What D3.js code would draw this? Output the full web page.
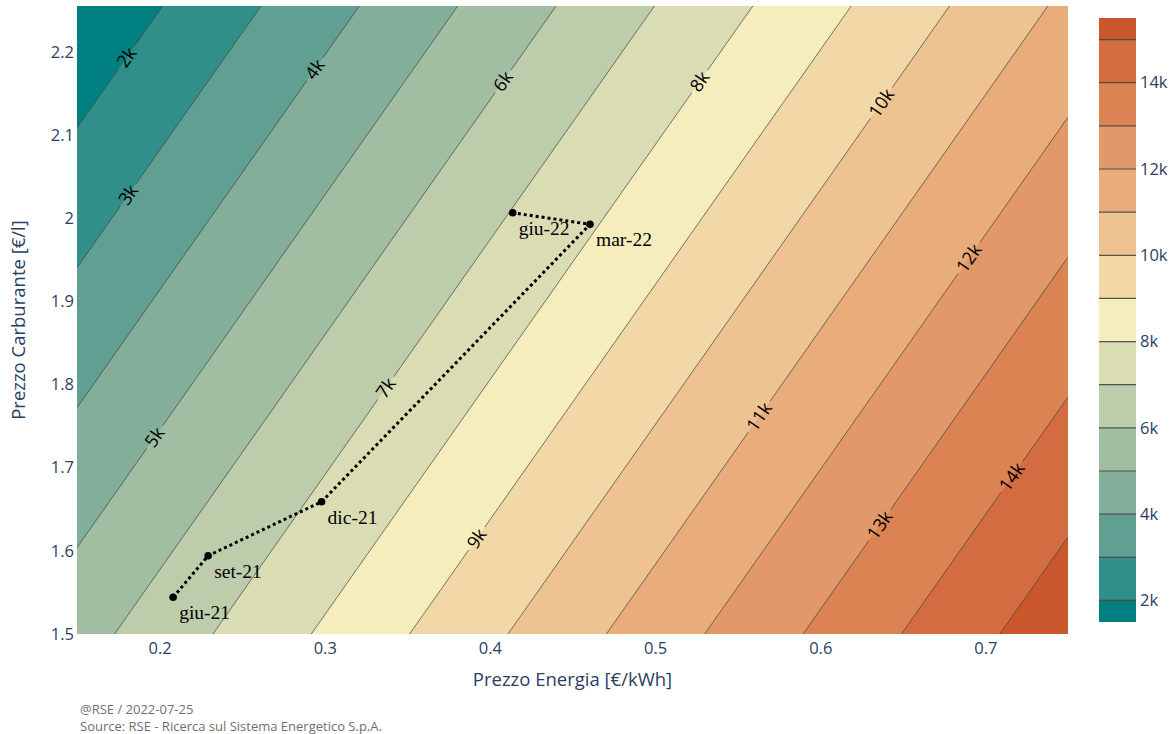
<!DOCTYPE html>
<html>
<head>
<meta charset="utf-8">
<script src="https://cdn.jsdelivr.net/npm/d3@7"></script>
<style>
  body { margin: 0; background: #fff; }
  svg text { font-family: "Open Sans", verdana, arial, sans-serif; }
</style>
</head>
<body>
<div class="canvas"></div>
<script>
// ---- DATA --- //
// grid of the contour surface, top row first
const xGrid = [0.15, 0.25, 0.35, 0.45, 0.55, 0.65, 0.75];
const yGrid = [2.255, 2.104, 1.953, 1.802, 1.651, 1.5];
const zGrid = [
    [1129, 2808, 4488, 6167, 7846, 9525, 11205],
    [2027, 3706, 5386, 7065, 8744, 10423, 12103],
    [2925, 4604, 6284, 7963, 9642, 11321, 13001],
    [3822, 5501, 7181, 8860, 10539, 12218, 13898],
    [4720, 6399, 8079, 9758, 11437, 13116, 14796],
    [5618, 7297, 8977, 10656, 12335, 14014, 15694]
];
const levels = [2000, 3000, 4000, 5000, 6000, 7000, 8000, 9000, 10000, 11000, 12000, 13000, 14000, 15000];
// where along x the contour label sits, per level (2k .. 14k)
const labelX = [0.180, 0.181, 0.294, 0.197, 0.408, 0.337, 0.527, 0.392, 0.637, 0.563, 0.690, 0.636, 0.716];

// path of prices
const months = ['giu-21', 'set-21', 'dic-21', 'mar-22', 'giu-22'];
const energyPrice = [0.2082, 0.2294, 0.2981, 0.4606, 0.4138];
const fuelPrice = [1.5441, 1.5941, 1.6590, 1.9925, 2.0064];

const xTicks = [0.2, 0.3, 0.4, 0.5, 0.6, 0.7];
const yTicks = [1.5, 1.6, 1.7, 1.8, 1.9, 2, 2.1, 2.2];
const cbTicks = [2000, 4000, 6000, 8000, 10000, 12000, 14000];
const cbRange = [1500, 15500];

const geyser = ['rgb(0,128,128)', 'rgb(112,164,148)', 'rgb(180,200,168)', 'rgb(246,237,189)',
    'rgb(237,187,138)', 'rgb(222,138,90)', 'rgb(202,86,44)'];


// ---- GRAPH CONTAINER SETUP --- //
const W = 1173, H = 734;
const margin = { top: 6, right: 105, bottom: 100, left: 77 };
const graphWidth = W - margin.left - margin.right;     // 991
const graphHeight = H - margin.top - margin.bottom;    // 628

const svg = d3.select('.canvas')
    .append('svg')
    .attr('width', W)
    .attr('height', H);

const defs = svg.append('defs');
defs.append('clipPath').attr('id', 'plotClip')
    .append('rect')
    .attr('width', graphWidth)
    .attr('height', graphHeight);

const graph = svg.append('g')
    .attr('transform', `translate(${margin.left},${margin.top})`);


// ---- SCALES --- //
const x = d3.scaleLinear().domain([0.15, 0.75]).range([0, graphWidth]);
const y = d3.scaleLinear().domain([1.5, 2.255]).range([graphHeight, 0]);

const colorOf = d3.scaleLinear()
    .domain(geyser.map((c, i) => cbRange[0] + i * (cbRange[1] - cbRange[0]) / (geyser.length - 1)))
    .range(geyser);

// colour of the band that starts at a level
const bandColor = lvl => lvl >= 15000 ? colorOf(15500) : colorOf(lvl + 500);


// ---- CONTOURS --- //
const nx = xGrid.length, ny = yGrid.length;
const stepX = xGrid[1] - xGrid[0];
const stepY = yGrid[0] - yGrid[1];

const proj = d3.geoTransform({
    point: function (u, v) {
        this.stream.point(x(xGrid[0] + (u - 0.5) * stepX), y(yGrid[0] - (v - 0.5) * stepY));
    }
});
const path = d3.geoPath(proj);

const contours = d3.contours()
    .size([nx, ny])
    .thresholds(levels)(zGrid.flat());

const plot = graph.append('g').attr('clip-path', 'url(#plotClip)');

plot.append('rect')
    .attr('width', graphWidth)
    .attr('height', graphHeight)
    .attr('fill', colorOf(1500));

plot.append('g')
    .selectAll('path')
    .data(contours)
    .join('path')
    .attr('d', path)
    .attr('fill', d => bandColor(d.value))
    .attr('stroke', 'none');

// bilinear lookup in the grid, used to place the labels on their lines
const zAt = (xv, yv) => {
    const fu = (xv - xGrid[0]) / stepX;
    const fv = (yGrid[0] - yv) / stepY;
    const i = Math.max(0, Math.min(nx - 2, Math.floor(fu)));
    const j = Math.max(0, Math.min(ny - 2, Math.floor(fv)));
    const tu = fu - i, tv = fv - j;
    const a = zGrid[j][i], b = zGrid[j][i + 1], c = zGrid[j + 1][i], d = zGrid[j + 1][i + 1];
    return (a * (1 - tu) + b * tu) * (1 - tv) + (c * (1 - tu) + d * tu) * tv;
};

const labelData = labelX.map((lx, k) => {
    const lvl = levels[k];
    let lo = 1.5, hi = 2.255;
    for (let it = 0; it < 40; it++) {
        const mid = (lo + hi) / 2;
        if (zAt(lx, mid) > lvl) lo = mid; else hi = mid;
    }
    const ly = (lo + hi) / 2;
    const px = x(lx), py = y(ly);
    // gradient in pixel space
    const e = 1e-4;
    const gx = (zAt(lx + e, ly) - zAt(lx - e, ly)) / (x(lx + e) - x(lx - e));
    const gy = (zAt(lx, ly + e) - zAt(lx, ly - e)) / (y(ly + e) - y(ly - e));
    const angle = Math.atan2(-gx, gy) * 180 / Math.PI;
    return { lvl, px, py, angle };
});

// mask so the lines break around their labels
const mask = defs.append('mask')
    .attr('id', 'labelMask')
    .attr('maskUnits', 'userSpaceOnUse')
    .attr('x', 0).attr('y', 0)
    .attr('width', graphWidth).attr('height', graphHeight);
mask.append('rect')
    .attr('width', graphWidth)
    .attr('height', graphHeight)
    .attr('fill', '#fff');

plot.append('g')
    .attr('mask', 'url(#labelMask)')
    .selectAll('path')
    .data(contours)
    .join('path')
    .attr('d', path)
    .attr('fill', 'none')
    .attr('stroke', '#444')
    .attr('stroke-opacity', 0.9)
    .attr('stroke-width', 0.8);

const fmtK = d3.format('~s');

const labels = plot.append('g')
    .selectAll('text')
    .data(labelData)
    .join('text')
    .attr('transform', d => `translate(${d.px},${d.py}) rotate(${d.angle})`)
    .attr('text-anchor', 'middle')
    .attr('dy', '0.35em')
    .attr('font-size', 18)
    .attr('fill', '#000')
    .text(d => fmtK(d.lvl));

labels.each(function (d) {
    const w = this.getComputedTextLength() + 8;
    mask.append('rect')
        .attr('transform', `translate(${d.px},${d.py}) rotate(${d.angle})`)
        .attr('x', -w / 2).attr('y', -10)
        .attr('width', w).attr('height', 20)
        .attr('fill', '#000');
});


// ---- PRICE PATH --- //
const pts = months.map((m, i) => ({ m, e: energyPrice[i], f: fuelPrice[i] }));

graph.append('path')
    .datum(pts)
    .attr('d', d3.line().x(d => x(d.e)).y(d => y(d.f)))
    .attr('fill', 'none')
    .attr('stroke', '#000')
    .attr('stroke-width', 3)
    .attr('stroke-dasharray', '3,3');

graph.append('g')
    .selectAll('circle')
    .data(pts)
    .join('circle')
    .attr('cx', d => x(d.e))
    .attr('cy', d => y(d.f))
    .attr('r', 3.8)
    .attr('fill', '#000');

graph.append('g')
    .selectAll('text')
    .data(pts)
    .join('text')
    .attr('x', d => x(d.e) + 6)
    .attr('y', d => y(d.f) + 22)
    .style('font-family', '"Liberation Serif", "Times New Roman", serif')
    .attr('font-size', 19.5)
    .attr('fill', '#000')
    .text(d => d.m);


// ---- AXES --- //
const axisColor = '#2a3f5f';
const tickFont = 16.5;

const xAxisGroup = graph.append('g')
    .attr('transform', `translate(0,${graphHeight})`)
    .call(d3.axisBottom(x).tickValues(xTicks).tickSize(0).tickPadding(8).tickFormat(d3.format('~f')));

const yAxisGroup = graph.append('g')
    .call(d3.axisLeft(y).tickValues(yTicks).tickSize(0).tickPadding(3).tickFormat(d3.format('~f')));

[xAxisGroup, yAxisGroup].forEach(g => {
    g.select('.domain').remove();
    g.selectAll('text')
        .attr('fill', axisColor)
        .attr('font-size', tickFont)
        .style('font-family', '"Open Sans", verdana, arial, sans-serif');
});

svg.append('text')
    .attr('x', margin.left + graphWidth / 2)
    .attr('y', 686)
    .attr('text-anchor', 'middle')
    .attr('font-size', 18.5)
    .attr('fill', axisColor)
    .text('Prezzo Energia [€/kWh]');

svg.append('text')
    .attr('transform', `translate(25,${margin.top + graphHeight / 2}) rotate(-90)`)
    .attr('text-anchor', 'middle')
    .attr('font-size', 18.5)
    .attr('fill', axisColor)
    .text('Prezzo Carburante [€/l]');


// ---- COLORBAR --- //
const cbX = 1099, cbW = 37, cbTop = 18, cbBottom = 622;
const cbScale = d3.scaleLinear().domain(cbRange).range([cbBottom, cbTop]);
const cbEdges = [cbRange[0], ...levels, cbRange[1]];
const cbBands = d3.pairs(cbEdges);

const cb = svg.append('g');
cb.selectAll('rect')
    .data(cbBands)
    .join('rect')
    .attr('x', cbX)
    .attr('y', d => cbScale(d[1]))
    .attr('width', cbW)
    .attr('height', d => cbScale(d[0]) - cbScale(d[1]))
    .attr('fill', d => d[0] < levels[0] ? colorOf(cbRange[0]) : bandColor(d[0]));

cb.selectAll('line')
    .data(levels)
    .join('line')
    .attr('x1', cbX).attr('x2', cbX + cbW)
    .attr('y1', d => cbScale(d)).attr('y2', d => cbScale(d))
    .attr('stroke', '#444')
    .attr('stroke-opacity', 0.9)
    .attr('stroke-width', 1.2);

const cbAxisGroup = svg.append('g')
    .attr('transform', `translate(${cbX + cbW},0)`)
    .call(d3.axisRight(cbScale).tickValues(cbTicks).tickSize(0).tickPadding(4).tickFormat(fmtK));
cbAxisGroup.select('.domain').remove();
cbAxisGroup.selectAll('text')
    .attr('fill', axisColor)
    .attr('font-size', tickFont)
    .style('font-family', '"Open Sans", verdana, arial, sans-serif');


// ---- FOOTER --- //
const footer = svg.append('g')
    .attr('font-size', 13)
    .attr('fill', '#6f6f6f');
footer.append('text').attr('x', 80).attr('y', 714).text('@RSE / 2022-07-25');
footer.append('text').attr('x', 80).attr('y', 730.5).text('Source: RSE - Ricerca sul Sistema Energetico S.p.A.');
</script>
</body>
</html>
